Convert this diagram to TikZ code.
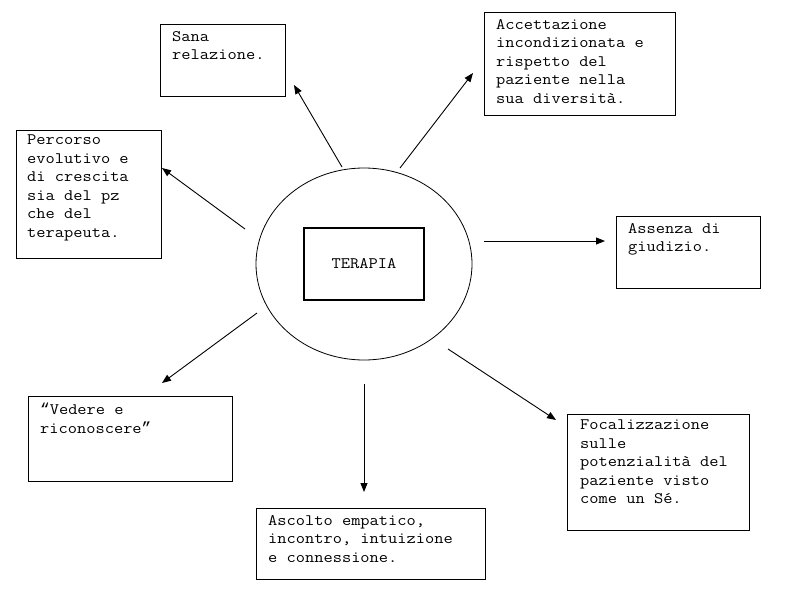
\documentclass[tikz,border=0pt]{standalone}
\usepackage{fontspec}
\setmonofont[FakeStretch=1.12]{Latin Modern Mono}
\newfontfamily\qfont{Liberation Mono}
\usetikzlibrary{shapes.geometric, arrows.meta, calc}
\tikzset{
	cbox/.style ={rectangle, draw=black, line width=1.2pt, anchor=north west, inner sep=0pt},
	ctext/.style={anchor=north west, align=left, inner sep=0pt, font=\ttfamily\fontsize{16}{18.5}\selectfont, execute at begin node=\strut},
	carr/.style ={-{Triangle[length=9pt, width=7pt]}, line width=0.9pt},
}
\begin{document}
\begin{tikzpicture}[x=1pt, y=-1pt]
	\useasboundingbox (0,0) rectangle (786,597);
	% centre
	\node[ellipse, draw=black, line width=0.8pt, minimum width=216, minimum height=192] (ell) at (364,264) {};
	\node[cbox, anchor=center, minimum width=120, minimum height=72, font=\ttfamily\fontsize{16}{18.5}\selectfont] (terapia) at (364,264) {TERAPIA};
	% boxes
	\node[cbox, minimum width=125, minimum height=72] (sana) at (160,24) {};
	\node[cbox, minimum width=191, minimum height=103] (acc) at (484,12) {};
	\node[cbox, minimum width=145, minimum height=128] (perc) at (16,130) {};
	\node[cbox, minimum width=144, minimum height=72] (ass) at (616,216) {};
	\node[cbox, minimum width=204, minimum height=85] (ved) at (28,396) {};
	\node[cbox, minimum width=182, minimum height=116] (foc) at (567,414) {};
	\node[cbox, minimum width=229, minimum height=71] (asc) at (256,508) {};
	% texts
	\node[ctext] (sana-t) at ($(sana.north west)+(12,7)$) {Sana\\relazione.};
	\node[ctext] (acc-t) at ($(acc.north west)+(12,7)$) {Accettazione\\incondizionata e\\rispetto del\\paziente nella\\sua diversità.};
	\node[ctext] (perc-t) at ($(perc.north west)+(11,5)$) {Percorso\\evolutivo e\\di crescita\\sia del pz\\che del\\terapeuta.};
	\node[ctext] (ass-t) at ($(ass.north west)+(12,7)$) {Assenza di\\giudizio.};
	\node[ctext] (ved-t) at ($(ved.north west)+(12,7)$) {{\qfont“}Vedere e\\riconoscere{\qfont”}};
	\node[ctext] (foc-t) at ($(foc.north west)+(13,6)$) {Focalizzazione\\sulle\\potenzialità del\\paziente visto\\come un Sé.};
	\node[ctext] (asc-t) at ($(asc.north west)+(12,7)$) {Ascolto empatico,\\incontro, intuizione\\e connessione.};
	% arrow ends
	\coordinate (sana-s) at (342,167); \coordinate (sana-e) at (294,85);
	\coordinate (acc-s) at (400,168);  \coordinate (acc-e) at (473,73);
	\coordinate (perc-s) at (245,229); \coordinate (perc-e) at (162,168);
	\coordinate (ass-s) at (484,241);  \coordinate (ass-e) at (605,241);
	\coordinate (ved-s) at (257,313);  \coordinate (ved-e) at (162,383);
	\coordinate (asc-s) at (364,384);  \coordinate (asc-e) at (364,492);
	\coordinate (foc-s) at (448,349);  \coordinate (foc-e) at (556,420);
	\draw[carr] (sana-s) -- (sana-e);
	\draw[carr] (acc-s) -- (acc-e);
	\draw[carr] (perc-s) -- (perc-e);
	\draw[carr] (ass-s) -- (ass-e);
	\draw[carr] (ved-s) -- (ved-e);
	\draw[carr] (asc-s) -- (asc-e);
	\draw[carr] (foc-s) -- (foc-e);
\end{tikzpicture}
\end{document}
